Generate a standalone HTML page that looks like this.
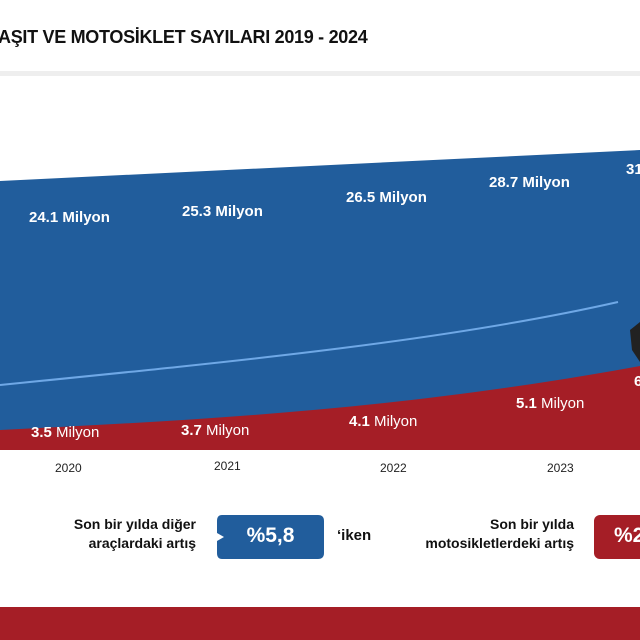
<!DOCTYPE html>
<html><head><meta charset="utf-8"><style>
body{margin:0;width:640px;height:640px;overflow:hidden;background:#fff;font-family:"Liberation Sans",sans-serif;position:relative}
.t{position:absolute;white-space:nowrap}
</style></head><body>
<div class="t" style="left:-2px;top:27px;font-size:18px;font-weight:bold;color:#111;letter-spacing:-0.3px">AŞIT VE MOTOSİKLET SAYILARI 2019 - 2024</div>
<div style="position:absolute;left:0;top:71px;width:640px;height:5px;background:#eee"></div>
<svg width="640" height="640" style="position:absolute;left:0;top:0">
<path d="M0 181 L640 150 L640 450 L0 450 Z" fill="#215d9c"/>
<path d="M0 430 C200 420 400 410 640 366 L640 450 L0 450 Z" fill="#a51e26"/>
<path d="M0 385 C250 360 450 340 618 302" stroke="#6fa8e6" stroke-width="2" fill="none"/>
<path d="M630 330 L640 322 L640 362 L632 350 Z" fill="#222"/>
<path d="M222 515 L318 515 Q324 515 324 521 L324 553 Q324 559 318 559 L222 559 Q217 559 217 553 L217 541 L224 537 L217 533 L217 521 Q217 515 222 515Z" fill="#215d9c"/>
<rect x="594" y="515" width="60" height="44" rx="6" fill="#a51e26"/>
<rect x="0" y="607" width="640" height="33" fill="#a51e26"/>
</svg>
<div class="t" style="left:29px;top:209px;font-size:15px;font-weight:bold;color:#fff">24.1 Milyon</div>
<div class="t" style="left:182px;top:203px;font-size:15px;font-weight:bold;color:#fff">25.3 Milyon</div>
<div class="t" style="left:346px;top:189px;font-size:15px;font-weight:bold;color:#fff">26.5 Milyon</div>
<div class="t" style="left:489px;top:174px;font-size:15px;font-weight:bold;color:#fff">28.7 Milyon</div>
<div class="t" style="left:626px;top:161px;font-size:15px;font-weight:bold;color:#fff">31</div>
<div class="t" style="left:31px;top:424px;font-size:15px;color:#fff"><b>3.5</b> Milyon</div>
<div class="t" style="left:181px;top:422px;font-size:15px;color:#fff"><b>3.7</b> Milyon</div>
<div class="t" style="left:349px;top:413px;font-size:15px;color:#fff"><b>4.1</b> Milyon</div>
<div class="t" style="left:516px;top:395px;font-size:15px;color:#fff"><b>5.1</b> Milyon</div>
<div class="t" style="left:634px;top:373px;font-size:15px;color:#fff"><b>6</b></div>
<div class="t" style="left:55px;top:461px;font-size:12px;color:#222">2020</div>
<div class="t" style="left:214px;top:459px;font-size:12px;color:#222">2021</div>
<div class="t" style="left:380px;top:461px;font-size:12px;color:#222">2022</div>
<div class="t" style="left:547px;top:461px;font-size:12px;color:#222">2023</div>
<div class="t" style="left:40px;top:515px;width:156px;text-align:right;font-size:14px;font-weight:bold;color:#111;line-height:19px">Son bir yılda diğer<br>araçlardaki artış</div>
<div class="t" style="left:217px;top:524px;width:107px;text-align:center;font-size:21px;font-weight:bold;color:#fff">%5,8</div>
<div class="t" style="left:337px;top:527px;font-size:15px;font-weight:bold;color:#111">‘iken</div>
<div class="t" style="left:380px;top:515px;width:194px;text-align:right;font-size:14px;font-weight:bold;color:#111;line-height:19px">Son bir yılda<br>motosikletlerdeki artış</div>
<div class="t" style="left:614px;top:524px;font-size:21px;font-weight:bold;color:#fff">%2</div>
</body></html>
